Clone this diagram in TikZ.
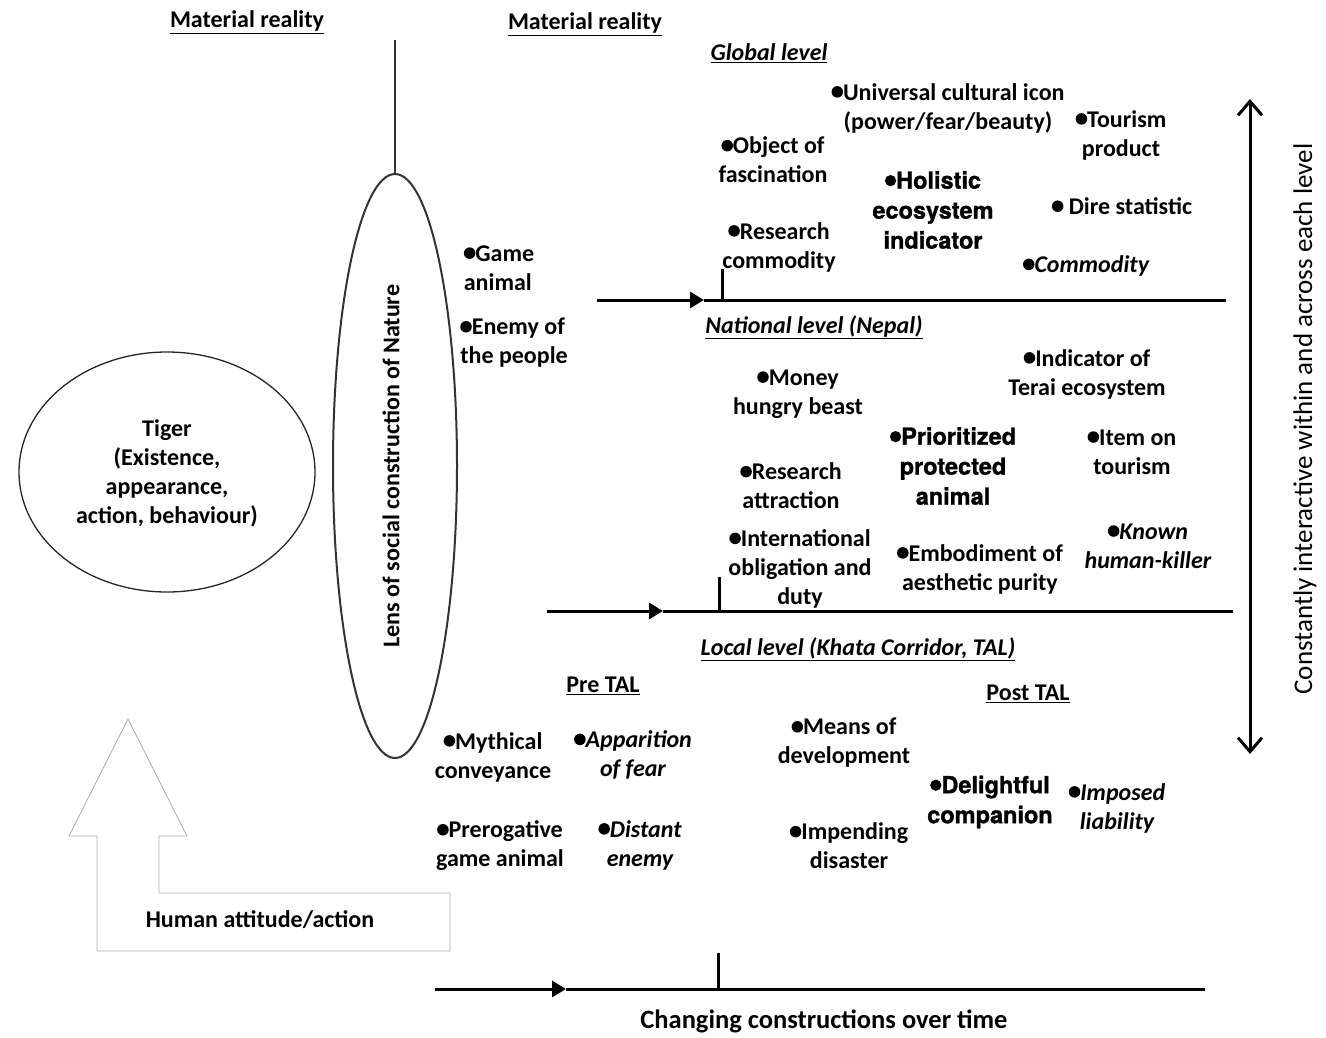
\documentclass[tikz,border=0pt]{standalone}
\usepackage{fontspec}
\setmainfont{Carlito}
\newfontfamily\arialbold{texgyreheros-bold.otf}[FakeBold=1.2]
\usetikzlibrary{arrows.meta,shapes.geometric}
\newcommand{\bul}{\raisebox{0.1em}{\tikz\fill (0,0) circle (0.24em);}}
\tikzset{
 lbl/.style={font=\fontsize{24}{29}\selectfont\bfseries, align=center, inner sep=0pt},
 lbli/.style={lbl, font=\fontsize{24}{29}\selectfont\bfseries\itshape},
 lbla/.style={lbl, font=\arialbold\fontsize{23.5}{30}\selectfont},
 axisline/.style={line width=3pt},
 midtip/.style={axisline, -{Triangle[length=14pt,width=16pt]}},
}
\begin{document}
\begin{tikzpicture}[x=1pt, y=-1pt]
\useasboundingbox (0,0) rectangle (1326,1037);

% headings
\node[lbl] (mr1) at (247,22) {\underline{Material reality}};
\node[lbl] (mr2) at (585,24) {\underline{Material reality}};

% global level
\node[lbli] (glob) at (769,53) {\underline{Global level}};
\node[lbl] (g1) at (948,108) {\bul Universal cultural icon\\(power/fear/beauty)};
\node[lbl] (g2) at (1121,135) {\bul Tourism\\product};
\node[lbl] (g3) at (773,160) {\bul Object of\\fascination};
\node[lbla] (g4) at (933,210) {\bul Holistic\\ecosystem\\indicator};
\node[lbl] (g5) at (1122,206) {\bul\ Dire statistic};
\node[lbl] (g6) at (779,247) {\bul Research\\commodity};
\node[lbli] (g7) at (1086,266) {\bul Commodity};
\node[lbl, align=left] (e1) at (499,268) {\bul Game\\animal};
\node[lbl, align=left] (e2) at (514,343) {\bul Enemy of\\the people};

% national level
\node[lbli] (nat) at (814,327) {\underline{National level (Nepal)}};
\node[lbl] (n1) at (1087,374) {\bul Indicator of\\Terai ecosystem};
\node[lbl] (n2) at (798,394) {\bul Money\\hungry beast};
\node[lbla] (n3) at (953,466) {\bul Prioritized\\protected\\animal};
\node[lbl] (n4) at (1132,452) {\bul Item on\\tourism};
\node[lbl] (n5) at (791,486) {\bul Research\\attraction};
\node[lbl] (n6) at (800,569) {\bul International\\obligation and\\duty};
\node[lbl] (n7) at (980,569) {\bul Embodiment of\\aesthetic purity};
\node[lbli] (n8) at (1148,546) {\bul Known\\human-killer};

% local level
\node[lbli] (loc) at (858,649) {\underline{Local level (Khata Corridor, TAL)}};
\node[lbl] (pre) at (603,686) {\underline{Pre TAL}};
\node[lbl] (post) at (1028,694) {\underline{Post TAL}};
\node[lbl] (l1) at (493,757) {\bul Mythical\\conveyance};
\node[lbli] (l2) at (633,755) {\bul Apparition\\of fear};
\node[lbl] (l3) at (844,743) {\bul Means of\\development};
\node[lbla] (l4) at (990,802) {\bul Delightful\\companion};
\node[lbli] (l5) at (1117,808) {\bul Imposed\\liability};
\node[lbl] (l6) at (500,846) {\bul Prerogative\\game animal};
\node[lbli] (l7) at (640,845) {\bul Distant\\enemy};
\node[lbl] (l8) at (849,846) {\bul Impending\\disaster};

% tiger
\node[draw=black!85, line width=1.3pt, ellipse, minimum width=296pt, minimum height=240pt, inner sep=0pt] (tiger) at (167,472) {};
\node[lbl] (tigertxt) at (167,473) {Tiger\\(Existence,\\appearance,\\action, behaviour)};

% lens
\node[draw=black!80, line width=2pt, ellipse, minimum width=124pt, minimum height=584pt, inner sep=0pt] (lens) at (395,466) {};
\node[lbl, rotate=90] (lenstxt) at (391,466) {Lens of social construction of Nature};
\coordinate (ltop) at (395,40);
\draw[line width=1.2pt, black!80] (ltop) -- (lens.north);

% hollow arrow
\draw[gray!65, line width=0.8pt] (128,719) -- (187,836) -- (159,836) -- (159,893) -- (450,893) -- (450,951) -- (97,951) -- (97,836) -- (69,836) -- cycle;
\node[lbl] (human) at (260,920) {Human attitude/action};

% time lines
\coordinate (a1s) at (597,300); \coordinate (a1m) at (704,300); \coordinate (a1e) at (1226,300);
\coordinate (t1a) at (722,269); \coordinate (t1b) at (722,300);
\draw[midtip] (a1s) -- (a1m); \draw[axisline] (a1m) -- (a1e); \draw[axisline] (t1a) -- (t1b);

\coordinate (a2s) at (547,611); \coordinate (a2m) at (663,611); \coordinate (a2e) at (1233,611);
\coordinate (t2a) at (719,577); \coordinate (t2b) at (719,611);
\draw[midtip] (a2s) -- (a2m); \draw[axisline] (a2m) -- (a2e); \draw[axisline] (t2a) -- (t2b);

\coordinate (a3s) at (435,989); \coordinate (a3m) at (566,989); \coordinate (a3e) at (1205,989);
\coordinate (t3a) at (718,953); \coordinate (t3b) at (718,989);
\draw[midtip] (a3s) -- (a3m); \draw[axisline] (a3m) -- (a3e); \draw[axisline] (t3a) -- (t3b);
\node[lbl, font=\fontsize{26.5}{32}\selectfont\bfseries] (change) at (824,1021) {Changing constructions over time};

% vertical double arrow
\coordinate (vtop) at (1250,99); \coordinate (vbot) at (1250,754);
\draw[line width=3pt, {Straight Barb[length=14pt,width=24pt]}-{Straight Barb[length=14pt,width=24pt]}] (vtop) -- (vbot);
\node[font=\fontsize{27}{32}\selectfont, rotate=90, inner sep=0pt] (inter) at (1305,419) {Constantly interactive within and across each level};
\end{tikzpicture}
\end{document}
